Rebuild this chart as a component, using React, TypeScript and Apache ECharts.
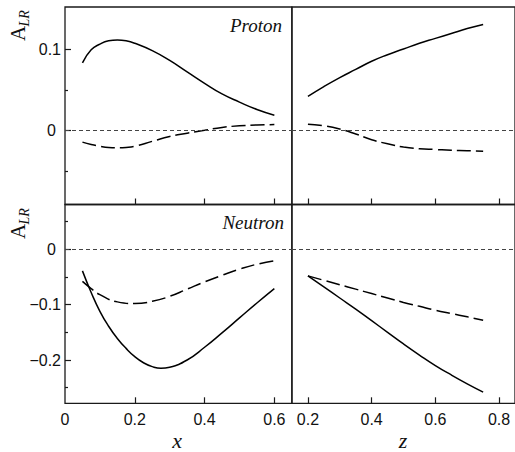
import React, { useEffect, useRef } from "react";
import * as echarts from "echarts";

// x (Bjorken x) samples and values, proton
const protonX = [0.05, 0.075, 0.1, 0.125, 0.15, 0.175, 0.2, 0.25, 0.3, 0.35, 0.4, 0.45, 0.5, 0.55, 0.6];
const protonXSolid = [0.083, 0.099, 0.106, 0.11, 0.111, 0.11, 0.107, 0.098, 0.086, 0.072, 0.058, 0.045, 0.035, 0.026, 0.019];
const protonXDashed = [-0.014, -0.017, -0.019, -0.0205, -0.021, -0.0205, -0.019, -0.013, -0.007, -0.003, 0.0005, 0.004, 0.006, 0.007, 0.0075];

// neutron vs x
const neutronXSolidX = [0.05, 0.075, 0.1, 0.125, 0.15, 0.175, 0.2, 0.225, 0.25, 0.275, 0.3, 0.35, 0.4, 0.45, 0.5, 0.55, 0.6];
const neutronXSolid = [-0.039, -0.078, -0.112, -0.139, -0.161, -0.179, -0.194, -0.205, -0.212, -0.215, -0.213, -0.2, -0.177, -0.151, -0.124, -0.097, -0.071];
const neutronXDashedX = [0.05, 0.075, 0.1, 0.15, 0.2, 0.25, 0.3, 0.35, 0.4, 0.45, 0.5, 0.55, 0.6];
const neutronXDashed = [-0.058, -0.071, -0.082, -0.095, -0.098, -0.094, -0.085, -0.072, -0.059, -0.047, -0.036, -0.027, -0.021];

// z samples
const zVals = [0.2, 0.25, 0.3, 0.35, 0.4, 0.45, 0.5, 0.55, 0.6, 0.65, 0.7, 0.75];
const protonZSolid = [0.042, 0.054, 0.065, 0.075, 0.085, 0.093, 0.1, 0.107, 0.113, 0.119, 0.125, 0.13];
const protonZDashed = [0.008, 0.006, 0.002, -0.004, -0.011, -0.016, -0.02, -0.022, -0.023, -0.024, -0.0245, -0.025];
const neutronZSolid = [-0.048, -0.068, -0.088, -0.108, -0.129, -0.15, -0.171, -0.191, -0.21, -0.227, -0.243, -0.258];
const neutronZDashed = [-0.048, -0.056, -0.064, -0.072, -0.08, -0.088, -0.096, -0.103, -0.11, -0.116, -0.122, -0.128];

// ticks
const xTicks = [0.2, 0.4, 0.6];
const xLabels = [0, 0.2, 0.4, 0.6];
const zTicks = [0.2, 0.4, 0.6, 0.8];
const topYMajor = [0, 0.1];
const topYMinor = [-0.05, 0.05];
const botYMajor = [-0.2, -0.1, 0];
const botYMinor = [-0.25, -0.15, -0.05, 0.05];

const panelLabels = ["Proton", "Neutron"];

const SANS = "Liberation Sans, Arial, sans-serif";
const SERIF = "Liberation Serif, Times New Roman, serif";

const zip = (xs: number[], ys: number[]) => xs.map((x, i) => [x, ys[i]]);

const fmt = (v: number) => {
  if (Math.abs(v) < 1e-9) return "{z|0}";
  const s = String(Math.round(Math.abs(v) * 100) / 100);
  return (v < 0 ? "\u2212" : "") + s;
};

export default function App() {
  const ref = useRef<HTMLDivElement>(null);
  useEffect(() => {
    if (!ref.current) return;
    const chart = echarts.init(ref.current, undefined, { renderer: "svg" });

    const gridBase = { show: true, borderColor: "#1a1a1a", borderWidth: 1.3, backgroundColor: "transparent" };
    const g0 = { left: 65, top: 7, width: 226.8, height: 197.5 };
    const g1 = { left: 292, top: 7, width: 226.5, height: 197.5 };
    const g2 = { left: 65, top: 204.5, width: 226.8, height: 198.8 };
    const g3 = { left: 292, top: 204.5, width: 226.5, height: 198.8 };
    const grids = [
      { ...gridBase, ...g0 },
      { ...gridBase, ...g1 },
      { ...gridBase, ...g2 },
      { ...gridBase, ...g3 },
      { show: false, ...g0 },
      { show: false, ...g2 },
    ];

    const tickStyle = { color: "#1a1a1a", width: 1.2 };
    const labelStyle = { color: "#111", fontFamily: SANS, fontSize: 16 };

    const mkX = (gi: number, left: boolean, showLabels: boolean, showTicks = true) => ({
      type: "value",
      gridIndex: gi,
      position: "bottom",
      min: left ? 0 : 0.15,
      max: left ? 0.65 : 0.85,
      axisLine: { show: false, onZero: false },
      splitLine: { show: false },
      axisTick: showTicks
        ? { show: true, inside: true, length: 6, lineStyle: tickStyle, customValues: left ? xTicks : zTicks }
        : { show: false },
      axisLabel: {
        show: showLabels,
        ...labelStyle,
        margin: 8,
        customValues: left ? xLabels : zTicks,
        formatter: (v: number) => String(Math.round(v * 100) / 100),
      },
    });

    const topRange = { min: -0.0903, max: 0.1514 };
    const botRange = { min: -0.2782, max: 0.0809 };

    const mkY = (gi: number, range: any, ticks: number[] | null, labels: number[] | null, len: number) => ({
      type: "value",
      gridIndex: gi,
      position: "left",
      ...range,
      axisLine: { show: false, onZero: false },
      splitLine: { show: false },
      axisTick: ticks
        ? { show: true, inside: true, length: len, lineStyle: tickStyle, customValues: ticks }
        : { show: false },
      axisLabel: labels
        ? {
            show: true,
            ...labelStyle,
            margin: 4,
            customValues: labels,
            formatter: fmt,
            rich: { z: { fontFamily: SANS, fontSize: 16, color: "#111", padding: [0, 5, 0, 0] } },
          }
        : { show: false },
    });

    const zeroLine = {
      silent: true,
      symbol: "none",
      label: { show: false },
      lineStyle: { type: [4, 3], color: "#444", width: 1 },
      data: [{ yAxis: 0 }],
    };

    const solid = { color: "#000", width: 1.5, type: "solid" };
    const dashed = { color: "#000", width: 1.5, type: [14, 5] };

    const mkSeries = (gi: number, data: number[][], style: any, withZero: boolean) => ({
      type: "line",
      xAxisIndex: gi,
      yAxisIndex: gi,
      data,
      smooth: 0.5,
      showSymbol: false,
      symbol: "none",
      lineStyle: style,
      silent: true,
      ...(withZero ? { markLine: zeroLine } : {}),
    });

    const rotLabel = (cy: number) => ({
      type: "group",
      x: 17.5,
      y: cy,
      rotation: Math.PI / 2,
      children: [
        {
          type: "text",
          x: 0,
          y: 0,
          style: { text: "A", font: `21px ${SERIF}`, fill: "#111", align: "left", verticalAlign: "middle" },
        },
        {
          type: "text",
          x: 14.5,
          y: 7,
          style: { text: "LR", font: `italic 14px ${SERIF}`, fill: "#111", align: "left", verticalAlign: "middle" },
        },
      ],
    });

    chart.setOption({
      animation: false,
      grid: grids,
      xAxis: [
        mkX(0, true, false),
        mkX(1, false, false),
        mkX(2, true, true),
        mkX(3, false, true),
        mkX(4, true, false, false),
        mkX(5, true, false, false),
      ],
      yAxis: [
        mkY(0, topRange, topYMajor, topYMajor, 6),
        mkY(1, topRange, null, null, 0),
        mkY(2, botRange, botYMajor, botYMajor, 6),
        mkY(3, botRange, null, null, 0),
        mkY(4, topRange, topYMinor, null, 3),
        mkY(5, botRange, botYMinor, null, 3),
      ],
      series: [
        mkSeries(0, zip(protonX, protonXSolid), solid, true),
        mkSeries(0, zip(protonX, protonXDashed), dashed, false),
        mkSeries(1, zip(zVals, protonZSolid), solid, true),
        mkSeries(1, zip(zVals, protonZDashed), dashed, false),
        mkSeries(2, zip(neutronXSolidX, neutronXSolid), solid, true),
        mkSeries(2, zip(neutronXDashedX, neutronXDashed), dashed, false),
        mkSeries(3, zip(zVals, neutronZSolid), solid, true),
        mkSeries(3, zip(zVals, neutronZDashed), dashed, false),
      ],
      graphic: [
        {
          type: "text",
          x: 282,
          y: 25,
          style: { text: panelLabels[0], font: `italic 19px ${SERIF}`, fill: "#111", align: "right", verticalAlign: "middle" },
        },
        {
          type: "text",
          x: 284,
          y: 222.5,
          style: { text: panelLabels[1], font: `italic 19px ${SERIF}`, fill: "#111", align: "right", verticalAlign: "middle" },
        },
        rotLabel(41),
        rotLabel(239),
        {
          type: "text",
          x: 177,
          y: 440,
          style: { text: "x", font: `italic 22px ${SERIF}`, fill: "#111", align: "center", verticalAlign: "middle" },
        },
        {
          type: "text",
          x: 403,
          y: 440,
          style: { text: "z", font: `italic 22px ${SERIF}`, fill: "#111", align: "center", verticalAlign: "middle" },
        },
      ],
    });
    return () => chart.dispose();
  }, []);
  return (
    <div
      ref={ref}
      style={{ position: "absolute", left: 0, top: 0, width: 515, height: 452, background: "#fff" }}
    />
  );
}
